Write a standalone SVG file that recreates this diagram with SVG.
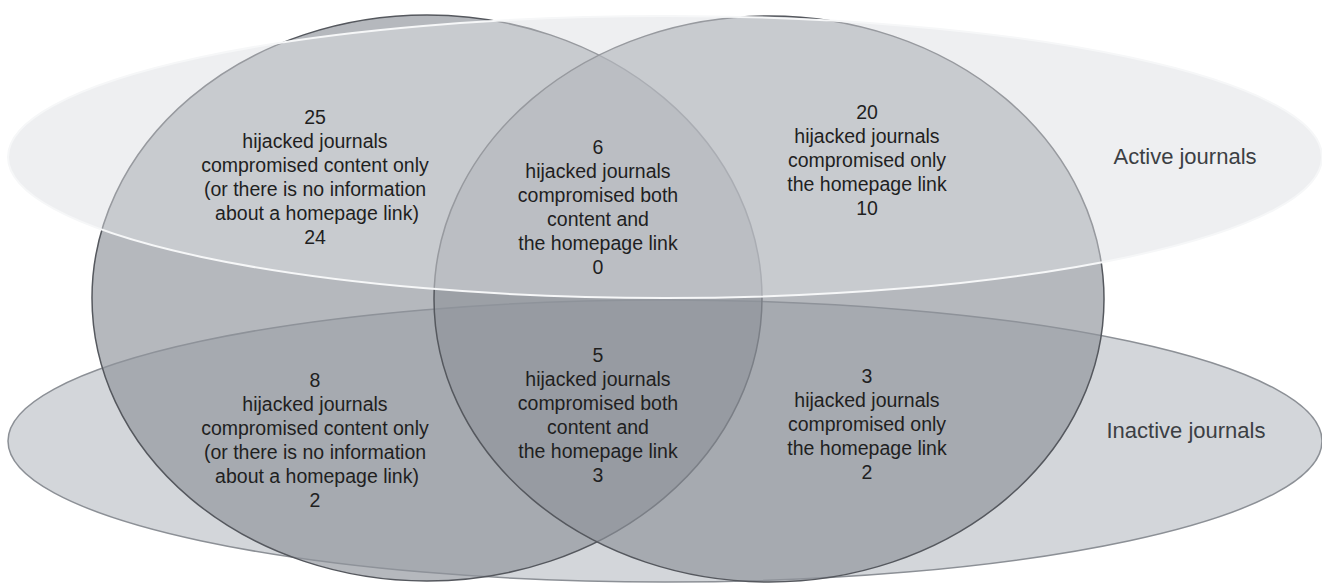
<svg xmlns="http://www.w3.org/2000/svg" width="1322" height="584" viewBox="0 0 1322 584">
<style>
.inactive{fill:#d3d6da;stroke:#8c9096;stroke-width:1.5}
.circle{fill:#8f939b;fill-opacity:0.66;stroke:#55585e;stroke-width:1.5}
.active{fill:#dcdfe3;fill-opacity:0.49;stroke:#f6f7f8;stroke-width:2}
text{font-family:"Liberation Sans",Arial,sans-serif;font-size:19.5px;fill:#1f1f1f;text-anchor:middle}
.lbl{font-size:22px;fill:#3c3f44}
</style>
<g id="inactive-journals"><ellipse class="inactive" cx="665" cy="441" rx="657" ry="141"/></g>
<g id="content-compromised"><ellipse class="circle" cx="427" cy="298" rx="335" ry="283"/></g>
<g id="homepage-compromised"><ellipse class="circle" cx="769" cy="299" rx="335" ry="283"/></g>
<g id="active-journals"><ellipse class="active" cx="665" cy="157" rx="657" ry="141"/></g>
<g id="label-active"><text class="lbl" x="1185" y="164">Active journals</text></g>
<g id="label-inactive"><text class="lbl" x="1186" y="438">Inactive journals</text></g>
<g id="active-content-only">
<text x="315" y="124">25</text>
<text x="315" y="148">hijacked journals</text>
<text x="315" y="172">compromised content only</text>
<text x="315" y="196">(or there is no information</text>
<text x="317" y="220">about a homepage link)</text>
<text x="315" y="244">24</text>
</g>
<g id="active-both">
<text x="598" y="154">6</text>
<text x="598" y="178">hijacked journals</text>
<text x="598" y="202">compromised both</text>
<text x="598" y="226">content and</text>
<text x="598" y="250">the homepage link</text>
<text x="598" y="274">0</text>
</g>
<g id="active-homepage-only">
<text x="867" y="119">20</text>
<text x="867" y="143">hijacked journals</text>
<text x="867" y="167">compromised only</text>
<text x="867" y="191">the homepage link</text>
<text x="867" y="215">10</text>
</g>
<g id="inactive-content-only">
<text x="315" y="387">8</text>
<text x="315" y="411">hijacked journals</text>
<text x="315" y="435">compromised content only</text>
<text x="315" y="459">(or there is no information</text>
<text x="317" y="483">about a homepage link)</text>
<text x="315" y="507">2</text>
</g>
<g id="inactive-both">
<text x="598" y="362">5</text>
<text x="598" y="386">hijacked journals</text>
<text x="598" y="410">compromised both</text>
<text x="598" y="434">content and</text>
<text x="598" y="458">the homepage link</text>
<text x="598" y="482">3</text>
</g>
<g id="inactive-homepage-only">
<text x="867" y="383">3</text>
<text x="867" y="407">hijacked journals</text>
<text x="867" y="431">compromised only</text>
<text x="867" y="455">the homepage link</text>
<text x="867" y="479">2</text>
</g>
</svg>
